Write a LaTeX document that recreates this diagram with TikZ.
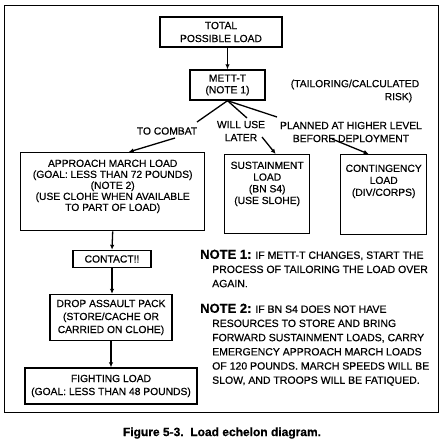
\documentclass[tikz,border=0pt]{standalone}
\usepackage{fontspec}
\setmainfont{Liberation Sans}[FakeBold=0.5]
\usetikzlibrary{arrows.meta}
\setlength{\parindent}{0pt}
\newcommand{\bxt}[4]{\parbox[t][#2][t]{#1}{\centering\vspace*{#3}#4}}
\begin{document}
\begin{tikzpicture}[x=1pt,y=-1pt,
  bx/.style={draw, line width=1.4pt, inner sep=0pt, align=center},
  bxp/.style={draw, line width=1.4pt, inner sep=0pt, anchor=north west},
  lbl/.style={inner sep=0pt, align=center, font=\fontsize{10.3}{13}\selectfont},
  note/.style={inner sep=0pt, align=left, anchor=north west, font=\fontsize{10.5}{14.2}\selectfont},
  ln/.style={line width=1.3pt},
  arr/.style={line width=1.3pt, -{Latex[length=5pt,width=4.5pt]}}]
\useasboundingbox (0,0) rectangle (444,447);
\fill[white] (0,0) rectangle (444,447);
\draw[line width=1pt] (4,5) rectangle (438,412);
% boxes
\node[bx, minimum width=122pt, minimum height=30pt, font=\fontsize{10.3}{13}\selectfont] (total) at (221,32) {TOTAL\\POSSIBLE LOAD};
\node[bx, minimum width=75pt, minimum height=30pt, font=\fontsize{10.3}{11.7}\selectfont] (mett) at (227.5,85) {METT-T\\(NOTE 1)};
\node[bxp, font=\fontsize{10.3}{11}\selectfont] (appr) at (20,152) {\bxt{184pt}{78pt}{7pt}{APPROACH MARCH LOAD\\(GOAL: LESS THAN 72 POUNDS)\\(NOTE 2)\\(USE CLOHE WHEN AVAILABLE\\TO PART OF LOAD)}};
\node[bxp, font=\fontsize{10.3}{11.7}\selectfont] (sust) at (224,154) {\bxt{85pt}{79pt}{7pt}{SUSTAINMENT\\LOAD\\(BN S4)\\(USE SLOHE)}};
\node[bxp, font=\fontsize{10.3}{12}\selectfont] (cont) at (340,154) {\bxt{86pt}{80pt}{10pt}{CONTINGENCY\\LOAD\\(DIV/CORPS)}};
\node[bx, minimum width=78pt, minimum height=17pt, font=\fontsize{10.3}{12}\selectfont] (contact) at (112,259) {CONTACT!!};
\node[bx, minimum width=122pt, minimum height=46pt, font=\fontsize{10.3}{13}\selectfont] (drop) at (111,317.5) {DROP ASSAULT PACK\\(STORE/CACHE OR\\CARRIED ON CLOHE)};
\node[bx, minimum width=172pt, minimum height=36pt, font=\fontsize{10.3}{13}\selectfont] (fight) at (111,386) {FIGHTING LOAD\\(GOAL: LESS THAN 48 POUNDS)};
% labels
\node[lbl] (combat) at (167,131) {TO COMBAT};
\node[lbl] (later) at (241,131) {WILL USE\\LATER};
\node[lbl] (planned) at (351,132) {PLANNED AT HIGHER LEVEL\\BEFORE DEPLOYMENT};
\node[lbl, align=right] (tailor) at (355,91) {(TAILORING/CALCULATED\\RISK)\hspace*{7pt}};
% notes
\node[note] (n1) at (200,249.5) {{\fontsize{13}{14.2}\selectfont\bfseries NOTE 1:} IF METT-T CHANGES, START THE\\\hspace*{12pt}PROCESS OF TAILORING THE LOAD OVER\\\hspace*{12pt}AGAIN.};
\node[note] (n2) at (200,303.5) {{\fontsize{13}{14.2}\selectfont\bfseries NOTE 2:} IF BN S4 DOES NOT HAVE\\\hspace*{12pt}RESOURCES TO STORE AND BRING\\\hspace*{12pt}FORWARD SUSTAINMENT LOADS, CARRY\\\hspace*{12pt}EMERGENCY APPROACH MARCH LOADS\\\hspace*{12pt}OF 120 POUNDS. MARCH SPEEDS WILL BE\\\hspace*{12pt}SLOW, AND TROOPS WILL BE FATIQUED.};
% caption
\node[inner sep=0pt, font=\fontsize{12}{14}\selectfont\bfseries] (cap) at (222,433) {Figure 5-3.\ \ Load echelon diagram.};
% connectors
\coordinate (tcA) at (197,122);
\coordinate (tcB) at (175,138);
\coordinate (wuA) at (247,118);
\coordinate (wuB) at (262,137);
\coordinate (plA) at (277,117);
\coordinate (plB) at (332,139);
\draw[arr] (total.south -| mett.north) -- (mett.north);
\draw[ln] (mett.south) -- (tcA);
\draw[arr] (tcB) -- ([xshift=16pt]appr.north);
\draw[ln] (mett.south) -- (wuA);
\draw[arr] (wuB) -- ([xshift=8.5pt]sust.north);
\draw[ln] (mett.south) -- (plA);
\draw[arr] (plB) -- ([xshift=-15pt]cont.north);
\draw[arr] (appr.south) -- (contact.north);
\draw[arr] (contact.south) -- (contact.south |- drop.north);
\draw[arr] (drop.south) -- (drop.south |- fight.north);
\end{tikzpicture}
\end{document}
